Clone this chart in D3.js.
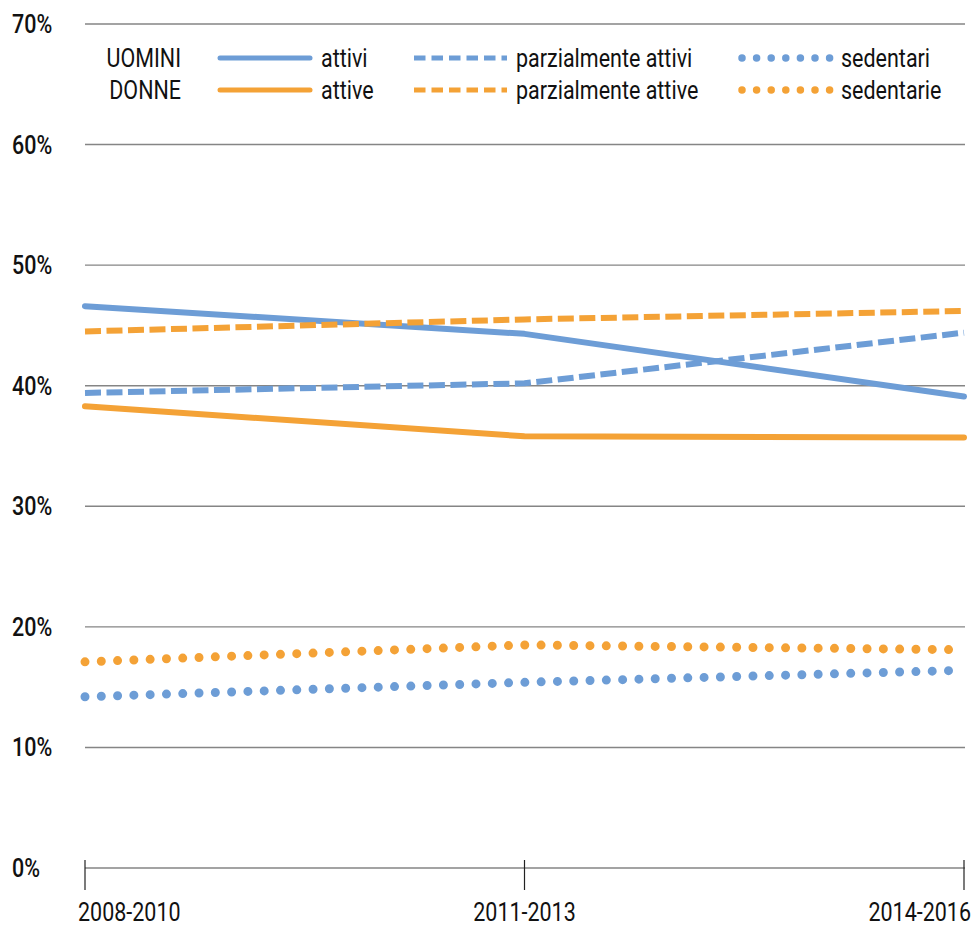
<!DOCTYPE html>
<html>
<head>
<meta charset="utf-8">
<script src="https://cdn.jsdelivr.net/npm/d3@7"></script>
<style>
  html, body { margin: 0; padding: 0; background: #fff; }
  svg text { font-family: Roboto, "DejaVu Sans Condensed", sans-serif; fill: #111; }
</style>
</head>
<body>
<svg id="chart" width="973" height="926"></svg>
<script>
// Periods on the x axis
const periods = ["2008-2010", "2011-2013", "2014-2016"];
// Y axis ticks (percent)
const yTicks = [0, 10, 20, 30, 40, 50, 60, 70];

// Shares of the population by physical activity level (%)
const uominiAttivi = [46.6, 44.3, 39.1];
const uominiParzialmente = [39.4, 40.2, 44.4];
const uominiSedentari = [14.2, 15.4, 16.4];
const donneAttive = [38.3, 35.8, 35.7];
const donneParzialmente = [44.5, 45.5, 46.2];
const donneSedentarie = [17.1, 18.5, 18.1];

const blue = "#6d9dd6";
const orange = "#f4a236";
const NARROW = 0.86; // horizontal squeeze for a condensed look

const series = [
  { values: donneSedentarie, color: orange, style: "dot" },
  { values: uominiSedentari, color: blue, style: "dot" },
  { values: donneAttive, color: orange, style: "solid" },
  { values: uominiParzialmente, color: blue, style: "dash" },
  { values: uominiAttivi, color: blue, style: "solid" },
  { values: donneParzialmente, color: orange, style: "dash" }
];

const svg = d3.select("#chart");
const x = d3.scalePoint().domain(periods).range([85, 964]);
const y = d3.scaleLinear().domain([0, 70]).range([868, 24]);

// Places a condensed text element at (tx, ty)
function placeText(sel, tx, ty) {
  sel.attr("transform", (d, i) => {
    const px = typeof tx === "function" ? tx(d, i) : tx;
    const py = typeof ty === "function" ? ty(d, i) : ty;
    return `translate(${px},${py}) scale(${NARROW},1)`;
  });
}

// Horizontal gridlines
svg.append("g").selectAll("line")
  .data(yTicks)
  .join("line")
  .attr("x1", 85).attr("x2", 965)
  .attr("y1", d => y(d)).attr("y2", d => y(d))
  .attr("stroke", "#858585").attr("stroke-width", 1.4);

// Y labels
svg.append("g").selectAll("text")
  .data(yTicks)
  .join("text")
  .attr("font-size", 25)
  .attr("font-weight", 500)
  .text(d => d + "%")
  .call(placeText, 12, d => y(d) + 9);

// X axis ticks
svg.append("g").selectAll("line")
  .data(periods)
  .join("line")
  .attr("x1", d => x(d)).attr("x2", d => x(d))
  .attr("y1", 860).attr("y2", 890)
  .attr("stroke", "#222").attr("stroke-width", 1.2);

// X labels
svg.append("g").selectAll("text")
  .data(periods)
  .join("text")
  .attr("text-anchor", (d, i) => i === 0 ? "start" : (i === periods.length - 1 ? "end" : "middle"))
  .attr("font-size", 25)
  .text(d => d)
  .call(placeText, (d, i) => i === 0 ? 78 : (i === periods.length - 1 ? 971 : x(d)), 921);

const line = d3.line().x((d, i) => x(periods[i])).y(d => y(d));

function styleLine(sel, style) {
  if (style === "solid") {
    sel.attr("stroke-width", 6).attr("stroke-linecap", "round");
  } else if (style === "dash") {
    sel.attr("stroke-width", 6).attr("stroke-linecap", "butt")
      .attr("stroke-dasharray", "16 5.5");
  } else {
    sel.attr("stroke-width", 9).attr("stroke-linecap", "round")
      .attr("stroke-dasharray", "0 16.3");
  }
}

svg.append("g").selectAll("path")
  .data(series)
  .join("path")
  .attr("d", d => line(d.values))
  .attr("fill", "none")
  .attr("stroke", d => d.color)
  .attr("stroke-linejoin", "round")
  .each(function (d) { styleLine(d3.select(this), d.style); });

// Legend
const legendRows = [
  { label: "UOMINI", color: blue, items: ["attivi", "parzialmente attivi", "sedentari"], y: 58 },
  { label: "DONNE", color: orange, items: ["attive", "parzialmente attive", "sedentarie"], y: 90 }
];
const legendStyles = ["solid", "dash", "dot"];
const sampleX = [220, 415, 742];
const legend = svg.append("g");
legendRows.forEach(row => {
  legend.append("text")
    .attr("text-anchor", "end")
    .attr("font-size", 25)
    .text(row.label)
    .call(placeText, 181, row.y + 9);
  row.items.forEach((item, i) => {
    const sx = sampleX[i];
    const p = legend.append("path")
      .attr("d", `M${sx},${row.y}H${sx + 90}`)
      .attr("fill", "none")
      .attr("stroke", row.color);
    if (legendStyles[i] === "solid") {
      p.attr("stroke-width", 5).attr("stroke-linecap", "round");
    } else if (legendStyles[i] === "dash") {
      p.attr("d", `M${sx - 1},${row.y}H${sx + 92}`)
        .attr("stroke-width", 5).attr("stroke-dasharray", "11.5 6");
    } else {
      p.attr("d", `M${sx},${row.y}H${sx + 88}`)
        .attr("stroke-width", 7.5).attr("stroke-linecap", "round")
        .attr("stroke-dasharray", "0 14.6");
    }
    legend.append("text")
      .attr("font-size", 25)
      .text(item)
      .call(placeText, sx + (i === 2 ? 99 : 101), row.y + 9);
  });
});
</script>
</body>
</html>
